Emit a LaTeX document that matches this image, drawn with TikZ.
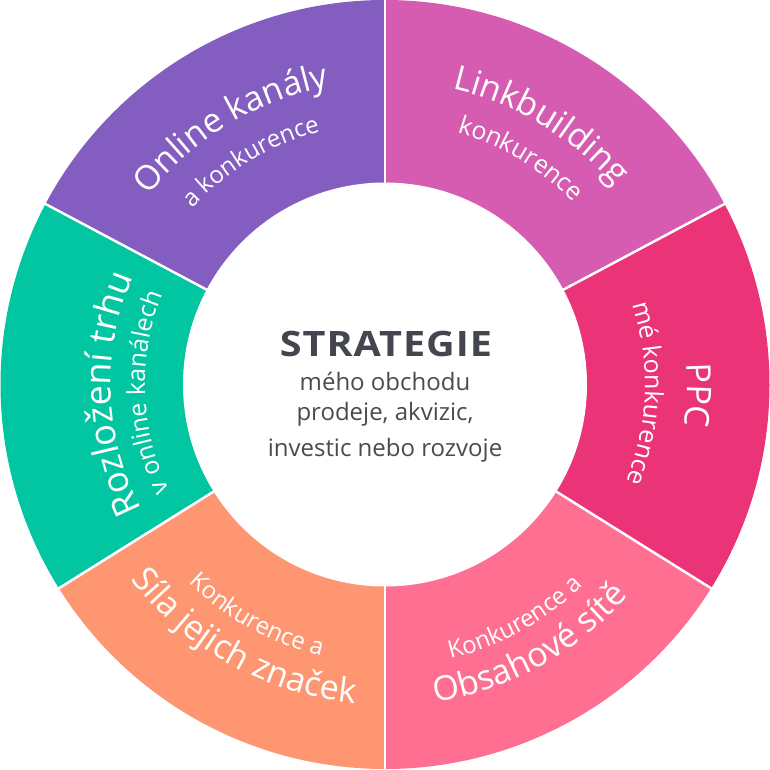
\documentclass[tikz,border=0pt]{standalone}
\usepackage{fontspec}
\usepackage{graphicx}
\setmainfont{Open Sans}
\usetikzlibrary{decorations.text}
\definecolor{cPur}{HTML}{835DC0}
\definecolor{cMag}{HTML}{D55CB0}
\definecolor{cPPC}{HTML}{EB3477}
\definecolor{cPink}{HTML}{FE6F92}
\definecolor{cOra}{HTML}{FE9672}
\definecolor{cTeal}{HTML}{02C5A1}
\definecolor{cDark}{HTML}{43464E}
\definecolor{cGray}{HTML}{4A4B50}
\newcommand\fsBig{\fontsize{34pt}{40pt}\selectfont}
\newcommand\fsRoz{\fontsize{36pt}{40pt}\selectfont}
\newcommand\fsSml{\fontsize{24pt}{28pt}\selectfont}
\newcommand\fsSmm{\fontsize{25pt}{28pt}\selectfont}
\newcommand\donutseg[3]{\fill[#1] (#2:384.5pt) arc[start angle=#2, end angle=#3, radius=384.5pt] -- (0,0) -- cycle;}
\begin{document}
\begin{tikzpicture}[x=1pt,y=1pt,
  divider/.style={white, line width=2.5pt},
  arctext/.style={decorate, decoration={text along path, text align=center, text color=white, text={#1}}},
  centertext/.style={anchor=base, inner sep=0pt, text=cGray, font=\fontsize{24pt}{28pt}\selectfont}]
\useasboundingbox (-385pt,-384.5pt) rectangle (385pt,384.5pt);
\donutseg{cPur}{90}{152}
\donutseg{cTeal}{152}{212}
\donutseg{cOra}{212}{270}
\donutseg{cPink}{270}{328}
\donutseg{cPPC}{328}{388}
\donutseg{cMag}{28}{90}
\foreach \a in {90,152,212,270,328,28}
  \draw[divider] (\a:190pt) -- (\a:386pt);
\node[circle, fill=white, minimum size=404pt, inner sep=0pt] (ctr) at (0,0) {};
% center texts
\node[anchor=base, inner sep=0pt, text=cDark, font=\bfseries\fontsize{35pt}{40pt}\selectfont\addfontfeature{LetterSpace=2.5}] (title) at (1pt,27.8) {\scalebox{1.13}[1]{STRATEGIE}};
\node[centertext] (l1) at (0,-6.2) {mého obchodu};
\node[centertext] (l2) at (0,-36.2) {prodeje, akvizic,};
\node[centertext] (l3) at (0,-72.2) {investic nebo rozvoje};
% Online kanaly
\path[arctext={|\fsBig|Online kanály}] (161:303pt) arc[start angle=161, end angle=81, radius=303pt];
\path[arctext={|\fsSml|a konkurence}] (161:261pt) arc[start angle=161, end angle=81, radius=261pt];
% Linkbuilding
\path[arctext={|\fsBig|Linkbuilding}] (99:303pt) arc[start angle=99, end angle=19, radius=303pt];
\path[arctext={|\fsSmm|konkurence}] (99:262pt) arc[start angle=99, end angle=19, radius=262pt];
% PPC
\path[arctext={|\fsBig|PPC}] (38:302pt) arc[start angle=38, end angle=-42, radius=302pt];
\path[arctext={|\fsSmm|mé konkurence}] (38:260pt) arc[start angle=38, end angle=-42, radius=260pt];
% Obsahove site
\path[arctext={|\fsSml|Konkurence a}] (-101:282pt) arc[start angle=-101, end angle=-21, radius=282pt];
\path[arctext={|\fsBig|Obsahové sítě}] (-101:322pt) arc[start angle=-101, end angle=-21, radius=322pt];
% Sila
\path[arctext={|\fsSml|Konkurence a}] (-159:279pt) arc[start angle=-159, end angle=-79, radius=279pt];
\path[arctext={|\fsBig|Síla jejich značek}] (-159:320pt) arc[start angle=-159, end angle=-79, radius=320pt];
% Rozlozeni
\path[arctext={|\fsRoz|Rozložení trhu}] (222:274pt) arc[start angle=222, end angle=142, radius=274pt];
\path[arctext={|\fsSmm|v online kanálech}] (222:240pt) arc[start angle=222, end angle=142, radius=240pt];
\end{tikzpicture}
\end{document}
